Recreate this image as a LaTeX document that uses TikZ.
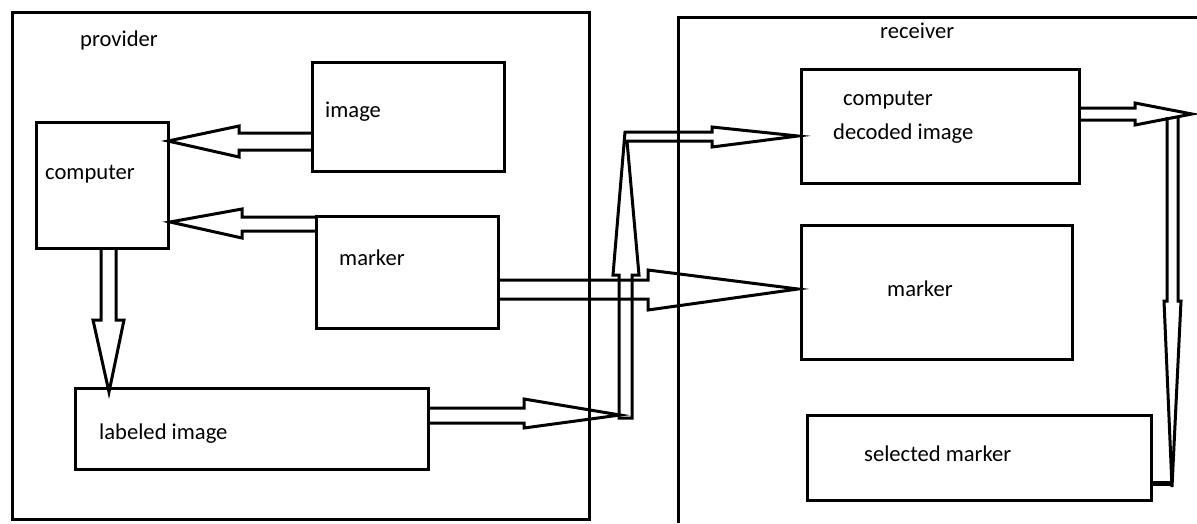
\documentclass[tikz,border=0pt]{standalone}
\usepackage{fontspec}
\setmainfont{Carlito}
\begin{document}
\begin{tikzpicture}[x=1pt,y=-1pt,
  box/.style={draw,line width=3pt,inner sep=0pt},
  lbl/.style={anchor=base west,inner sep=0pt,font=\fontsize{22.6}{27}\selectfont},
  blk/.style={draw,line width=3pt,line join=miter}]
\useasboundingbox (0,0) rectangle (1197,523);
% outer regions
\draw[line width=3pt] (12,12) rectangle (589,519);
\draw[line width=3pt] (678,523) -- (678,17) -- (1197,17);
% boxes
\node[box,minimum width=192pt,minimum height=109pt] (img) at (408,116.5) {};
\node[box,minimum width=132pt,minimum height=126pt] (comp) at (102,185) {};
\node[box,minimum width=182pt,minimum height=112pt] (mark) at (407,272.5) {};
\node[box,minimum width=353pt,minimum height=81pt] (lab) at (251.5,428.5) {};
\node[box,minimum width=278pt,minimum height=114pt] (dec) at (940,126) {};
\node[box,minimum width=271pt,minimum height=134pt] (rmark) at (936.5,292) {};
\node[box,minimum width=344pt,minimum height=85pt] (sel) at (979,457.5) {};
% labels
\node[lbl] (t1) at (80,46) {provider};
\node[lbl] (t2) at (880,38) {receiver};
\node[lbl] (t3) at (325,117) {image};
\node[lbl] (t4) at (45,179) {computer};
\node[lbl] (t5) at (339,265) {marker};
\node[lbl] (t6) at (99,439) {labeled image};
\node[lbl] (t7) at (843,105) {computer};
\node[lbl] (t8) at (833,139) {decoded image};
\node[lbl] (t9) at (887,296) {marker};
\node[lbl] (t10) at (864,461) {selected marker};
% block arrows
\draw[blk] (312,133) -- (239,133) -- (239,126) -- (168,141) -- (239,157) -- (239,150) -- (312,150);
\draw[blk] (316,217) -- (242,217) -- (242,209) -- (170,222) -- (242,238) -- (242,231) -- (316,231);
\draw[blk] (101,248) -- (101,320) -- (93,320) -- (109,392) -- (124,320) -- (116,320) -- (116,248);
\draw[blk] (428,408) -- (524,408) -- (524,399) -- (620,415) -- (524,428) -- (524,423) -- (428,423);
\draw[blk] (498,280) -- (648,280) -- (648,270) -- (798,289) -- (648,310) -- (648,299) -- (498,299);
\draw[blk] (619,418) -- (619,275) -- (613,275) -- (625,132) -- (712,132) -- (712,127) -- (798,136) -- (712,147) -- (712,141) -- (627,141) -- (639,275) -- (632,275) -- (632,418) -- cycle;
\draw[blk] (1079,108) -- (1135,108) -- (1135,103) -- (1192,114) -- (1135,125) -- (1135,120) -- (1079,120);
\draw[blk] (1167,117) -- (1167,301) -- (1164,301) -- (1172,487) -- (1181,301) -- (1178,301) -- (1178,117);
\draw[line width=5pt] (1151,483) -- (1172,483);
\end{tikzpicture}
\end{document}
